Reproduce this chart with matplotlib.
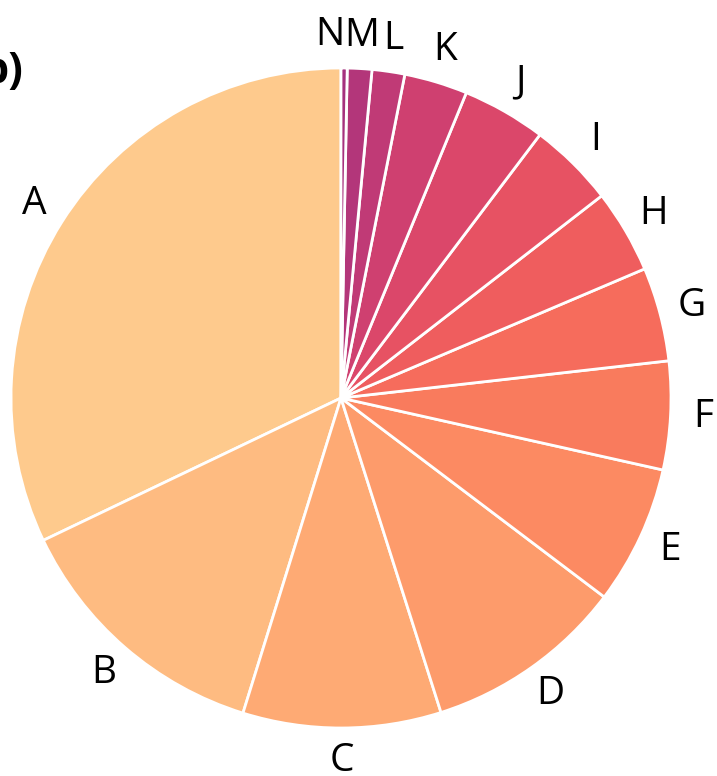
import numpy as np
import matplotlib.pyplot as plt

plt.rcParams['font.family'] = ['Open Sans', 'DejaVu Sans']

# Slice labels and shares (percent)
labels = ['A', 'B', 'C', 'D', 'E', 'F', 'G', 'H', 'I', 'J', 'K', 'L', 'M', 'N']
shares = [32.1, 13.1, 9.7, 9.8, 6.8, 5.3, 4.6, 4.1, 4.2, 4.1, 3.1, 1.6, 1.2, 0.3]

colors = plt.cm.magma(np.linspace(0.89, 0.46, len(labels)))

fig = plt.figure(figsize=(7.17, 7.76), dpi=100)
ax = fig.add_axes([11 / 717, 48 / 776, 660 / 717, 660 / 776])

wedges, texts = ax.pie(shares, labels=labels, colors=colors, startangle=90,
                       counterclock=True, labeldistance=1.1,
                       wedgeprops=dict(edgecolor='white', linewidth=2),
                       textprops=dict(fontsize=28))
for t in texts:
    t.set_horizontalalignment('center')
# the tiny last slice: push its label left so it clears M
texts[-1].set_horizontalalignment('right')

ax.set_xlim(-1, 1)
ax.set_ylim(-1, 1)
ax.set_aspect('equal')

fig.text(24 / 717, 1 - 72 / 776, 'b)', ha='right', va='center',
         fontsize=31, fontweight='bold')

plt.savefig('out.png')
